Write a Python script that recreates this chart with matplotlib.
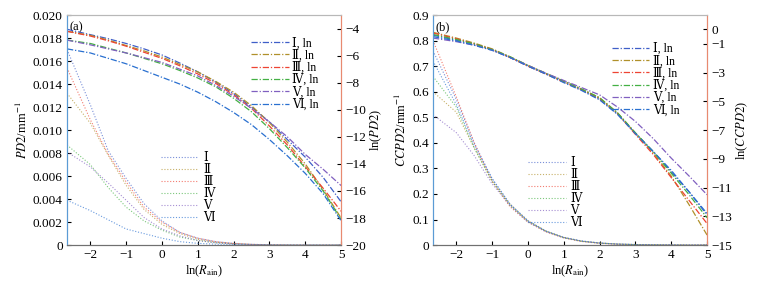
import matplotlib
matplotlib.use('Agg')
import matplotlib.pyplot as plt

plt.rcParams['font.family'] = ['Liberation Serif', 'DejaVu Serif']
plt.rcParams['mathtext.fontset'] = 'stix'
plt.rcParams['font.size'] = 9

ln_r = [-2.65, -2, -1.5, -1, -0.5, 0, 0.5, 1, 1.5, 2, 2.5, 3, 3.5, 4, 4.5, 5]
groups = ['Ⅰ', 'Ⅱ', 'Ⅲ', 'Ⅳ', 'Ⅴ', 'Ⅵ']
colors = ['#3f5fc8', '#b0902a', '#ee4433', '#44b044', '#8060c0', '#2a70d0']

# (a) PD2, linear values (left axis)
pd2 = [
    [0.0170, 0.0122, 0.0082, 0.0058, 0.0036, 0.0021, 0.0011, 0.0006, 0.0003, 0.00015, 0.00007, 0.00003, 0.00001, 0, 0, 0],
    [0.0132, 0.0106, 0.0078, 0.0052, 0.0031, 0.0018, 0.0010, 0.0005, 0.00025, 0.00012, 0.00006, 0.00002, 0.00001, 0, 0, 0],
    [0.0154, 0.0109, 0.0079, 0.0055, 0.0033, 0.0020, 0.0011, 0.0006, 0.0003, 0.00014, 0.00006, 0.00002, 0.00001, 0, 0, 0],
    [0.0087, 0.0070, 0.0050, 0.0033, 0.0021, 0.0013, 0.0007, 0.0004, 0.0002, 0.0001, 0.00004, 0.00001, 0, 0, 0, 0],
    [0.0081, 0.0068, 0.0054, 0.0039, 0.0024, 0.0014, 0.0008, 0.0004, 0.0002, 0.0001, 0.00004, 0.00001, 0, 0, 0, 0],
    [0.0039, 0.0030, 0.0022, 0.0014, 0.0010, 0.0006, 0.0003, 0.00015, 0.00008, 0.00004, 0.00002, 0.00001, 0, 0, 0, 0],
]
# (a) ln(PD2), right axis
ln_pd2 = [
    [-4.05, -4.45, -4.75, -5.1, -5.5, -5.95, -6.55, -7.2, -7.95, -8.8, -9.8, -10.9, -12.2, -13.5, -15.0, -16.8],
    [-4.2, -4.5, -4.85, -5.25, -5.65, -6.1, -6.65, -7.2, -7.9, -8.7, -9.7, -10.95, -12.4, -14.0, -15.9, -18.0],
    [-4.2, -4.55, -4.9, -5.3, -5.75, -6.2, -6.75, -7.35, -8.05, -8.9, -9.9, -11.2, -12.6, -14.2, -15.8, -17.5],
    [-4.85, -5.1, -5.45, -5.8, -6.2, -6.6, -7.1, -7.65, -8.3, -9.15, -10.15, -11.4, -12.8, -14.3, -16.0, -18.1],
    [-4.85, -5.2, -5.5, -5.8, -6.15, -6.5, -7.0, -7.5, -8.2, -9.0, -9.9, -10.9, -12.0, -13.3, -14.4, -15.6],
    [-5.5, -5.8, -6.2, -6.6, -7.1, -7.6, -8.1, -8.7, -9.4, -10.2, -11.1, -12.2, -13.4, -14.7, -16.2, -18.2],
]
# (b) CCPD2, linear values (left axis)
ccpd2 = [
    [0.76, 0.57, 0.40, 0.26, 0.16, 0.095, 0.055, 0.030, 0.016, 0.008, 0.004, 0.002, 0.001, 0.0005, 0, 0],
    [0.60, 0.52, 0.38, 0.25, 0.16, 0.095, 0.055, 0.030, 0.015, 0.008, 0.004, 0.002, 0.001, 0.0005, 0, 0],
    [0.80, 0.58, 0.40, 0.25, 0.15, 0.090, 0.052, 0.028, 0.014, 0.007, 0.003, 0.0015, 0.0007, 0.0003, 0, 0],
    [0.66, 0.54, 0.38, 0.25, 0.155, 0.092, 0.054, 0.029, 0.015, 0.008, 0.004, 0.002, 0.001, 0.0005, 0, 0],
    [0.51, 0.44, 0.35, 0.24, 0.155, 0.090, 0.053, 0.029, 0.015, 0.008, 0.004, 0.002, 0.001, 0.0005, 0, 0],
    [0.72, 0.55, 0.39, 0.26, 0.16, 0.095, 0.055, 0.030, 0.016, 0.008, 0.004, 0.002, 0.001, 0.0005, 0, 0],
]
# (b) ln(CCPD2), right axis
ln_ccpd2 = [
    [-0.4, -0.75, -1.05, -1.4, -1.95, -2.55, -3.1, -3.65, -4.2, -4.85, -5.9, -7.2, -8.5, -9.9, -11.3, -12.9],
    [-0.2, -0.6, -0.95, -1.35, -1.9, -2.5, -3.05, -3.6, -4.15, -4.75, -5.8, -7.2, -8.6, -10.2, -12.2, -14.3],
    [-0.25, -0.65, -1.0, -1.4, -1.95, -2.55, -3.1, -3.65, -4.2, -4.8, -5.85, -7.3, -8.7, -10.3, -11.9, -13.5],
    [-0.35, -0.7, -1.0, -1.4, -1.9, -2.5, -3.05, -3.6, -4.15, -4.75, -5.8, -7.2, -8.5, -10.0, -11.5, -13.1],
    [-0.6, -0.85, -1.1, -1.45, -1.95, -2.5, -3.05, -3.55, -4.05, -4.55, -5.4, -6.4, -7.6, -8.95, -10.2, -11.5],
    [-0.5, -0.8, -1.1, -1.45, -1.95, -2.55, -3.1, -3.7, -4.25, -4.9, -5.9, -7.25, -8.5, -9.8, -11.3, -12.8],
]


def panel(rect, tag, lin, lnv, ylab, ylab_r, ylim, yticks, yfmt, ylim_r, yticks_r, leg1, leg2):
    ax = fig.add_axes(rect)
    ax2 = ax.twinx()
    lin_lines = []
    ln_lines = []
    for i, g in enumerate(groups):
        l, = ax.plot(ln_r, lin[i], ls=(0, (1, 1.6)), lw=0.8, color=colors[i], alpha=0.7, label=g)
        lin_lines.append(l)
        l2, = ax2.plot(ln_r, lnv[i], ls=(0, (5, 1.5, 1, 1.5)), lw=0.9, color=colors[i], label=g + ', ln')
        ln_lines.append(l2)
    ax.set_xlim(-2.65, 5)
    ax.set_ylim(*ylim)
    ax.set_yticks(yticks)
    ax.set_yticklabels([yfmt(v) for v in yticks])
    ax.set_xticks([-2, -1, 0, 1, 2, 3, 4, 5])
    ax2.set_ylim(*ylim_r)
    ax2.set_yticks(yticks_r)
    ax.set_xlabel(r'ln($R_{\rm ain}$)', labelpad=2)
    ax.set_ylabel(ylab, labelpad=2)
    ax2.set_ylabel(ylab_r, rotation=90, labelpad=2)
    ax.tick_params(direction='in', length=3, labelsize=9.5, pad=3)
    ax2.tick_params(direction='in', length=3, labelsize=9.5, pad=3)
    for a in (ax, ax2):
        a.spines['left'].set_color('#5b9bd5')
        a.spines['right'].set_color('#e88a70')
        a.spines['top'].set_color('#b8b8b8')
        a.spines['bottom'].set_color('#707070')
    ax.text(0.01, 0.975, tag, transform=ax.transAxes, ha='left', va='top', fontsize=9)
    lg = ax2.legend(handles=ln_lines, loc='upper left', bbox_to_anchor=leg1, frameon=False,
                    fontsize=8.5, handlelength=3.2, labelspacing=0.0, handletextpad=0.3, borderpad=0)
    ax2.add_artist(lg)
    ax2.legend(handles=lin_lines, loc='upper left', bbox_to_anchor=leg2, frameon=False,
               fontsize=8.5, handlelength=3.2, labelspacing=0.0, handletextpad=0.4, borderpad=0)
    return ax, ax2


fig = plt.figure(figsize=(7.83, 2.84), dpi=100)

panel([0.0856, 0.137, 0.35, 0.81], '(a)', pd2, ln_pd2,
      r'$PD2$/mm$^{-1}$', r'ln($PD2$)',
      (0, 0.02), [0.002 * k for k in range(11)],
      lambda v: '0' if v == 0 else '%.3f' % v,
      (-20, -3), list(range(-20, -3, 2)),
      (0.65, 0.93), (0.32, 0.43))

panel([0.553, 0.137, 0.35, 0.81], '(b)', ccpd2, ln_ccpd2,
      r'$CCPD2$/mm$^{-1}$', r'ln($CCPD2$)',
      (0, 0.9), [0.1 * k for k in range(10)],
      lambda v: '0' if v == 0 else '%.1f' % v,
      (-15, 1), list(range(-15, 1, 2)) + [0],
      (0.63, 0.905), (0.325, 0.41))

fig.savefig('out.png', dpi=100)
